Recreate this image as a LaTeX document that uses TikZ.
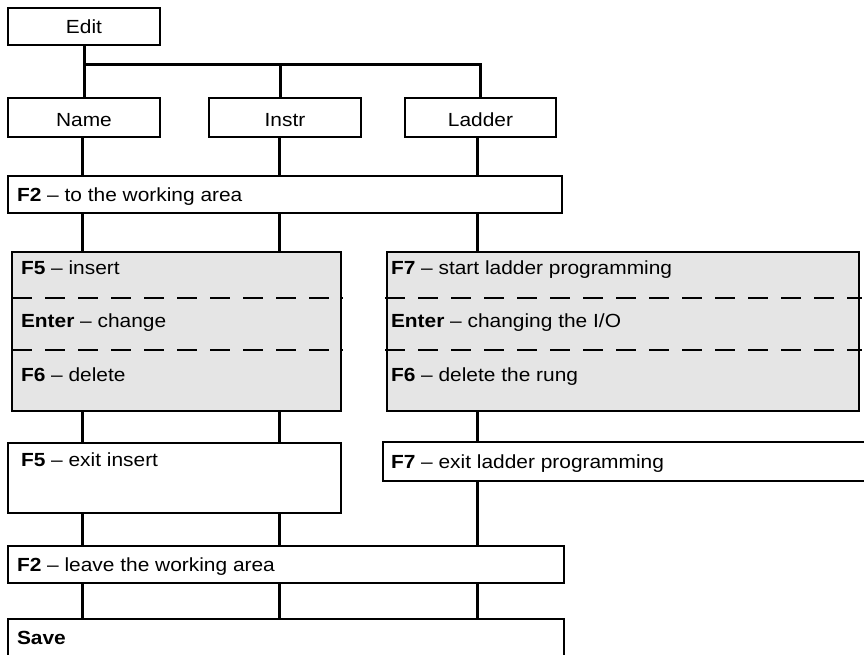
\documentclass[tikz,border=0pt]{standalone}
\usepackage{fontspec}
\setmainfont{Liberation Sans}[FakeStretch=1.1]
\begin{document}
\begin{tikzpicture}[x=1pt,y=-1pt,
  box/.style={draw=black, line width=1.8pt, fill=white, inner sep=0pt, outer sep=0pt, anchor=north west},
  graybox/.style={box, fill=gray!20},
  conn/.style={draw=black, line width=3pt},
  dashline/.style={draw=black, line width=1.7pt, dash pattern=on 20pt off 13pt},
  txt/.style={inner sep=0pt, outer sep=0pt, font=\fontsize{19}{22}\selectfont}
]
\useasboundingbox (0,0) rectangle (864,654);
\clip (0,0) rectangle (864,654);
% column positions
\coordinate (cA) at (82,0);
\coordinate (cB) at (279,0);
\coordinate (cC) at (477,0);
\coordinate (iB) at (280,0);
\coordinate (bus) at (0,64);
% boxes
\node[box, minimum width=152pt, minimum height=37pt] (edit) at (8,8) {};
\node[box, minimum width=152pt, minimum height=39pt] (name) at (8,98) {};
\node[box, minimum width=152pt, minimum height=39pt] (instr) at (209,98) {};
\node[box, minimum width=151pt, minimum height=39pt] (ladder) at (405,98) {};
\node[box, minimum width=554pt, minimum height=37pt] (f2a) at (8,176) {};
\node[graybox, minimum width=329pt, minimum height=159pt] (gl) at (12,252) {};
\node[graybox, minimum width=472pt, minimum height=159pt] (gr) at (387,252) {};
\node[box, minimum width=333pt, minimum height=70pt] (f5x) at (8,443) {};
\node[box, minimum width=500pt, minimum height=39pt] (f7x) at (383,442) {};
\node[box, minimum width=556pt, minimum height=37pt] (f2b) at (8,546) {};
\node[box, minimum width=556pt, minimum height=60pt] (save) at (8,619) {};
% dashed separators
\draw[dashline] (12,298) -- (343,298);
\draw[dashline] (12,350) -- (343,350);
\draw[dashline] (385,298) -- (862,298);
\draw[dashline] (385,350) -- (862,350);
% texts
\node[txt, anchor=base] (tedit) at (84,33.5) {Edit};
\node[txt, anchor=base] (tname) at (84,126) {Name};
\node[txt, anchor=base] (tinstr) at (285,126) {Instr};
\node[txt, anchor=base] (tladder) at (480.5,126) {Ladder};
\node[txt, anchor=base west] (tf2a) at (17,201.5) {\textbf{F2} – to the working area};
\node[txt, anchor=base west] (tf5) at (21,274) {\textbf{F5} – insert};
\node[txt, anchor=base west] (tent) at (21,327) {\textbf{Enter} – change};
\node[txt, anchor=base west] (tf6) at (21,381) {\textbf{F6} – delete};
\node[txt, anchor=base west] (tf7) at (391,274) {\textbf{F7} – start ladder programming};
\node[txt, anchor=base west] (tent2) at (391,327) {\textbf{Enter} – changing the I/O};
\node[txt, anchor=base west] (tf6b) at (391,381) {\textbf{F6} – delete the rung};
\node[txt, anchor=base west] (tf5x) at (21,466) {\textbf{F5} – exit insert};
\node[txt, anchor=base west] (tf7x) at (391,468) {\textbf{F7} – exit ladder programming};
\node[txt, anchor=base west] (tf2b) at (17,571.5) {\textbf{F2} – leave the working area};
\node[txt, anchor=base west] (tsave) at (17,644) {\textbf{Save}};
% connectors
\draw[conn] (edit.south) -- (name.north);
\draw[conn] (edit.south |- bus) -| (ladder.north -| 480,0);
\draw[conn] (bus -| iB) -- (instr.north -| iB);
\foreach \c in {cA,cB,cC} {
  \draw[conn] (name.south -| \c) -- (f2a.north -| \c);
}
\draw[conn] (f2a.south -| cA) -- (gl.north -| cA);
\draw[conn] (f2a.south -| cB) -- (gl.north -| cB);
\draw[conn] (f2a.south -| cC) -- (gr.north -| cC);
\draw[conn] (gl.south -| cA) -- (f5x.north -| cA);
\draw[conn] (gl.south -| cB) -- (f5x.north -| cB);
\draw[conn] (gr.south -| cC) -- (f7x.north -| cC);
\draw[conn] (f5x.south -| cA) -- (f2b.north -| cA);
\draw[conn] (f5x.south -| cB) -- (f2b.north -| cB);
\draw[conn] (f7x.south -| cC) -- (f2b.north -| cC);
\foreach \c in {cA,cB,cC} {
  \draw[conn] (f2b.south -| \c) -- (save.north -| \c);
}
\end{tikzpicture}
\end{document}
